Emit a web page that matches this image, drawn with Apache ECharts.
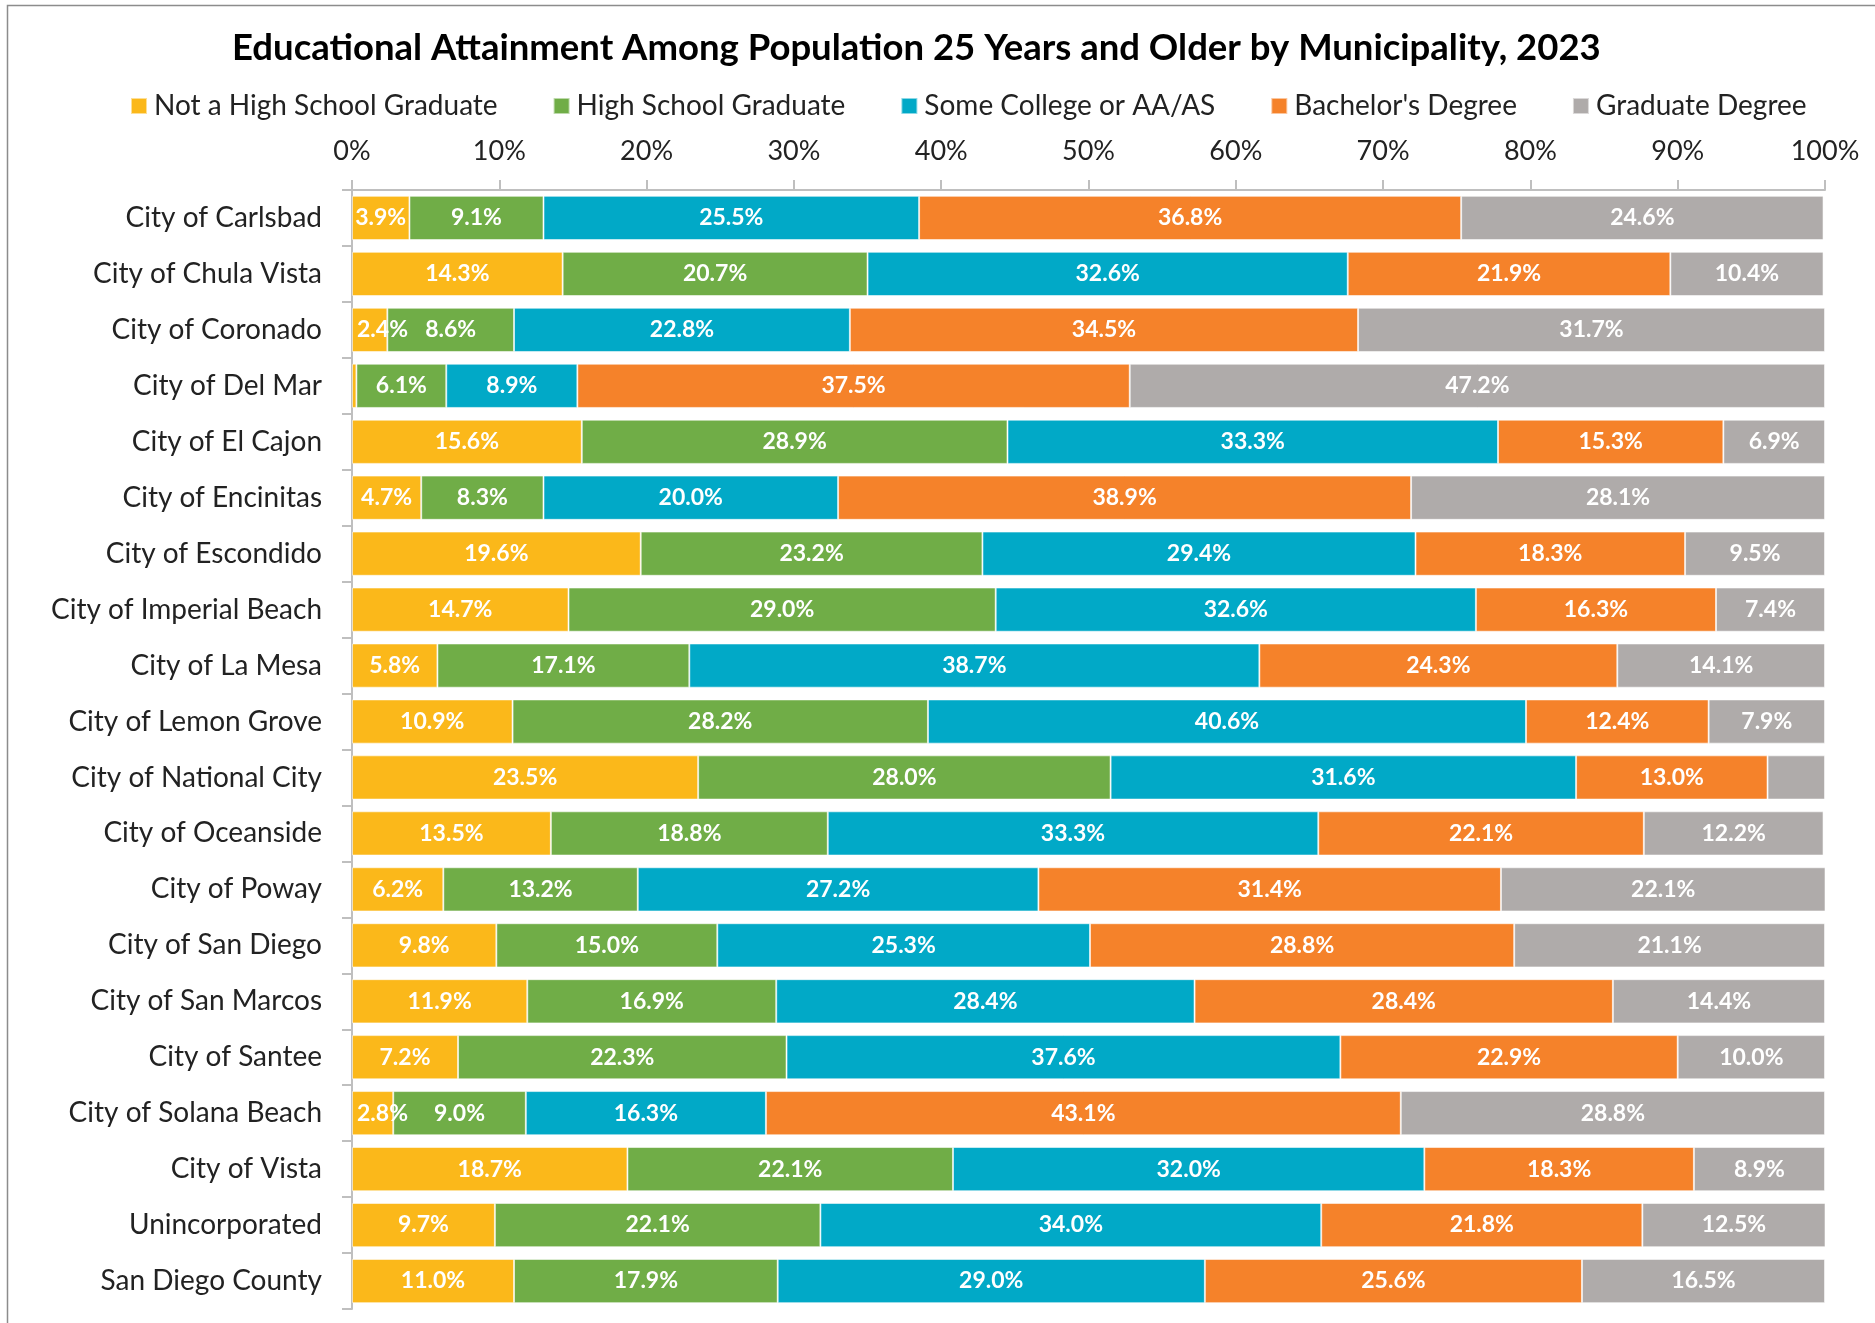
<!DOCTYPE html>
<html>
<head>
<meta charset="utf-8">
<script src="https://cdn.jsdelivr.net/npm/echarts@6/dist/echarts.min.js"></script>
<style>
  html, body { margin: 0; padding: 0; background: #fff; }
  #chart { width: 1875px; height: 1323px; }
</style>
</head>
<body>
<div id="chart"></div>
<script>
// municipalities, top to bottom
var cities = [
    'City of Carlsbad', 'City of Chula Vista', 'City of Coronado', 'City of Del Mar',
    'City of El Cajon', 'City of Encinitas', 'City of Escondido', 'City of Imperial Beach',
    'City of La Mesa', 'City of Lemon Grove', 'City of National City', 'City of Oceanside',
    'City of Poway', 'City of San Diego', 'City of San Marcos', 'City of Santee',
    'City of Solana Beach', 'City of Vista', 'Unincorporated', 'San Diego County'
];

var seriesNames = ['Not a High School Graduate', 'High School Graduate', 'Some College or AA/AS', "Bachelor's Degree", 'Graduate Degree'];

var notHighSchool = [3.9, 14.3, 2.4, 0.3, 15.6, 4.7, 19.6, 14.7, 5.8, 10.9, 23.5, 13.5, 6.2, 9.8, 11.9, 7.2, 2.8, 18.7, 9.7, 11.0];
var highSchool    = [9.1, 20.7, 8.6, 6.1, 28.9, 8.3, 23.2, 29.0, 17.1, 28.2, 28.0, 18.8, 13.2, 15.0, 16.9, 22.3, 9.0, 22.1, 22.1, 17.9];
var someCollege   = [25.5, 32.6, 22.8, 8.9, 33.3, 20.0, 29.4, 32.6, 38.7, 40.6, 31.6, 33.3, 27.2, 25.3, 28.4, 37.6, 16.3, 32.0, 34.0, 29.0];
var bachelors     = [36.8, 21.9, 34.5, 37.5, 15.3, 38.9, 18.3, 16.3, 24.3, 12.4, 13.0, 22.1, 31.4, 28.8, 28.4, 22.9, 43.1, 18.3, 21.8, 25.6];
var graduate      = [24.6, 10.4, 31.7, 47.2, 6.9, 28.1, 9.5, 7.4, 14.1, 7.9, 3.9, 12.2, 22.1, 21.1, 14.4, 10.0, 28.8, 8.9, 12.5, 16.5];

var xTicks = [0, 10, 20, 30, 40, 50, 60, 70, 80, 90, 100];

var colors = ['#FBB81A', '#70AD47', '#01A9C7', '#F5822A', '#AFABAA'];

// labels the original leaves off (too thin)
var hiddenLabels = [[3, 0], [10, 4]];

var chart = echarts.init(document.getElementById('chart'));
var font = 'Lato, "Open Sans", sans-serif';

function makeSeries(name, values, idx) {
    return {
        name: name,
        type: 'bar',
        stack: 'total',
        barCategoryGap: '21%',
        itemStyle: { color: colors[idx], borderColor: 'rgba(255,255,255,0.55)', borderWidth: 1 },
        label: {
            show: true,
            color: '#fff',
            fontFamily: font,
            fontWeight: 'bold',
            fontSize: 23,
            formatter: function (p) {
                for (var k = 0; k < hiddenLabels.length; k++) {
                    if (hiddenLabels[k][0] === p.dataIndex && hiddenLabels[k][1] === idx) return '';
                }
                return p.value.toFixed(1) + '%';
            }
        },
        data: values.map(function (v) {
            var d = { value: v };
            if (idx === 0 && v < 3) d.label = { position: 'insideLeft', distance: 5 };
            return d;
        })
    };
}

var option = {
    animation: false,
    color: colors,
    title: {
        text: 'Educational Attainment Among Population 25 Years and Older by Municipality, 2023',
        left: 227,
        top: 25,
        textStyle: { fontFamily: font, fontWeight: 'bold', fontSize: 36.5, color: '#000' }
    },
    legend: {
        data: seriesNames,
        left: 125,
        top: 87,
        itemWidth: 16,
        itemHeight: 16,
        itemGap: 55,
        icon: 'rect',
        textStyle: { fontFamily: font, fontSize: 28, color: '#222', padding: [0, 0, 0, 2] }
    },
    grid: { left: 352, right: 50, top: 190, bottom: 14 },
    xAxis: {
        type: 'value',
        position: 'top',
        min: 0,
        max: 100,
        interval: 10,
        axisLine: { show: true, lineStyle: { color: '#BFBFBF', width: 2 } },
        axisTick: { show: true, length: 10, lineStyle: { color: '#BFBFBF', width: 2 } },
        splitLine: { show: false },
        axisLabel: {
            margin: 25,
            fontFamily: font,
            fontSize: 27,
            color: '#222',
            formatter: function (v) { return xTicks.indexOf(v) >= 0 ? v + '%' : ''; }
        }
    },
    yAxis: {
        type: 'category',
        inverse: true,
        data: cities,
        axisLine: { show: true, lineStyle: { color: '#BFBFBF', width: 2 } },
        axisTick: { show: true, length: 10, lineStyle: { color: '#BFBFBF', width: 2 } },
        axisLabel: { margin: 30, fontFamily: font, fontSize: 28, color: '#222' }
    },
    graphic: [{
        type: 'rect',
        shape: { x: 7.5, y: 5.5, width: 2000, height: 2000 },
        style: { fill: 'none', stroke: '#8C8C8C', lineWidth: 1.5 },
        silent: true
    }],
    series: [
        makeSeries(seriesNames[0], notHighSchool, 0),
        makeSeries(seriesNames[1], highSchool, 1),
        makeSeries(seriesNames[2], someCollege, 2),
        makeSeries(seriesNames[3], bachelors, 3),
        makeSeries(seriesNames[4], graduate, 4)
    ]
};

chart.setOption(option);
</script>
</body>
</html>
